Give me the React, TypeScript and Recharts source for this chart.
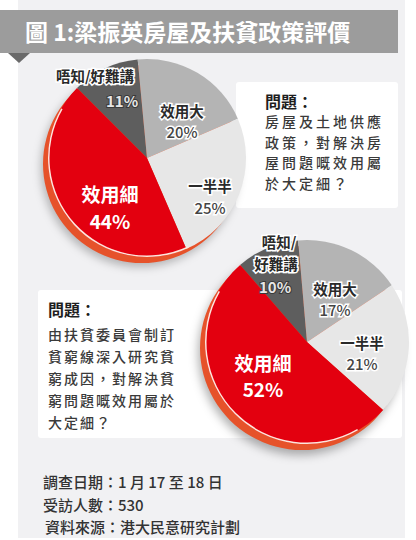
import React from "react";
import { PieChart, Pie, Cell } from "recharts";

// 回應類別（由深灰順時針）
const CATEGORIES = ["唔知/好難講", "效用大", "一半半", "效用細"];
const HOUSING = [11, 20, 25, 44];
const POVERTY = [10, 17, 21, 52];

const TITLE = "圖 1:梁振英房屋及扶貧政策評價";
const Q_HOUSING = ["房屋及土地供應", "政策，對解決房", "屋問題嘅效用屬", "於大定細？"];
const Q_POVERTY = ["由扶貧委員會制訂", "貧窮線深入研究貧", "窮成因，對解決貧", "窮問題嘅效用屬於", "大定細？"];
const FOOTER = ["調查日期：1 月 17 至 18 日", "受訪人數：530", "資料來源：港大民意研究計劃"];

const COLORS = ["#5e5e5e", "#b4b4b4", "#e7e7e7", "#e3000f"];
const FONT = "'Noto Sans CJK TC', 'Noto Sans', sans-serif";

const housing = CATEGORIES.map((name, i) => ({ name, value: HOUSING[i] }));
const poverty = CATEGORIES.map((name, i) => ({ name, value: POVERTY[i] }));

// label offsets from the pie centre: [nameDx, nameDy, pctDx, pctDy]
const OFF1 = [
  [-52, -83, -25, -58],
  [35, -48, 35, -27],
  [63, 27, 63, 49],
  [-37, 35, -37, 62],
];
const OFF2 = [
  [-31, -101, -32, -56],
  [28, -54, 28, -33],
  [55, 0, 55, 21],
  [-44, 20, -44, 46],
];

function makeLabel(off: number[][], splitFirst: boolean) {
  return (p: any) => {
    const i = p.index;
    const [nx, ny, px, py] = off[i];
    const cx = p.cx, cy = p.cy;
    const red = i === 3;
    const nameStyle = red
      ? { fill: "#fff", fontSize: 19, fontWeight: 700 }
      : { fill: "#2a2a2a", fontSize: 14.5, fontWeight: 700, stroke: "#fff", strokeWidth: 3, paintOrder: "stroke" as const };
    const pctStyle = red
      ? { fill: "#fff", fontSize: 19, fontWeight: 700 }
      : i === 0
      ? { fill: "#e6e6e6", fontSize: 15, fontWeight: 700, stroke: "#3a3a3a", strokeWidth: 2, paintOrder: "stroke" as const }
      : { fill: "#444", fontSize: 15, fontWeight: 500, stroke: "#fff", strokeWidth: 3, paintOrder: "stroke" as const };
    const names = splitFirst && i === 0 ? p.name.replace("/", "/\n").split("\n") : [p.name];
    return (
      <g style={{ fontFamily: FONT }}>
        {names.map((n: string, k: number) => (
          <text key={k} x={cx + nx + (k === 0 && names.length > 1 ? 3 : 0)} y={cy + ny + k * 22} textAnchor="middle" dominantBaseline="central" style={nameStyle}>
            {n}
          </text>
        ))}
        <text x={cx + px} y={cy + py} textAnchor="middle" dominantBaseline="central" style={pctStyle}>
          {p.value}%
        </text>
      </g>
    );
  };
}

const abs = (l: number, t: number, w: number, h: number, bg: string): React.CSSProperties => ({
  position: "absolute", left: l, top: t, width: w, height: h, background: bg,
});

export default function App() {
  const lineStyle = (top: number, left: number, lh: number, ls: number): React.CSSProperties => ({
    position: "absolute", left, top, lineHeight: `${lh}px`, fontSize: 14, fontWeight: 500, letterSpacing: ls, color: "#3a3a3a", whiteSpace: "pre",
  });
  const qHead = (top: number, left: number): React.CSSProperties => ({
    position: "absolute", left, top, fontSize: 16, fontWeight: 700, lineHeight: "18px", color: "#1e1e1e",
  });
  return (
    <div style={{ position: "absolute", left: 0, top: 0, width: 416, height: 540, background: "#fff", fontFamily: FONT, overflow: "hidden" }}>
      <div style={abs(18, 0, 387, 538, "#f1f1f3")} />
      <div style={{ ...abs(0, 10, 398, 43, "#9c9c9c"), color: "#fff", fontSize: 23, fontWeight: 700, lineHeight: "43px", paddingLeft: 25, boxSizing: "border-box", whiteSpace: "nowrap" }}>
        {TITLE}
      </div>
      <div style={{ position: "absolute", left: 8, top: 53, width: 0, height: 0, borderLeft: "11px solid transparent", borderRight: "11px solid transparent", borderTop: "10px solid #6a6a6a" }} />
      <div style={{ ...abs(236, 82, 162, 126, "#fff"), borderRadius: 3 }} />
      <div style={{ ...abs(38, 290, 364, 148, "#fff"), borderRadius: 3 }} />

      <div style={qHead(92, 265)}>問題：</div>
      <div style={lineStyle(111, 265, 20.5, 3)}>{Q_HOUSING.join("\n")}</div>
      <div style={qHead(300, 48)}>問題：</div>
      <div style={lineStyle(323, 48, 22, 2)}>{Q_POVERTY.join("\n")}</div>

      {FOOTER.map((t, i) => (
        <div key={i} style={{ position: "absolute", left: i === 2 ? 45 : 43, top: [471, 494, 516][i], fontSize: 15, fontWeight: 500, lineHeight: "22px", color: "#333", whiteSpace: "nowrap" }}>
          {t}
        </div>
      ))}

      <div style={{ position: "absolute", left: 0, top: 0 }}>
        <PieChart width={416} height={540}>
          {/* cylinder side of each pie */}
          <Pie data={[{ value: 1 }]} dataKey="value" cx={137} cy={159} outerRadius={99} stroke="none" isAnimationActive={false}>
            <Cell fill="#e6522a" style={{ filter: "drop-shadow(-2px 4px 4px rgba(0,0,0,0.25))" }} />
          </Pie>
          <Pie data={[{ value: 1 }]} dataKey="value" cx={297} cy={343} outerRadius={102} stroke="none" isAnimationActive={false}>
            <Cell fill="#e6522a" style={{ filter: "drop-shadow(-2px 5px 5px rgba(0,0,0,0.3))" }} />
          </Pie>
          <Pie
            data={housing}
            dataKey="value"
            nameKey="name"
            cx={142}
            cy={153}
            outerRadius={99}
            startAngle={135}
            endAngle={-225}
            stroke="none"
            labelLine={false}
            label={makeLabel(OFF1, false)}
            isAnimationActive={false}
          >
            {housing.map((d, i) => (
              <Cell key={d.name} fill={COLORS[i]} />
            ))}
          </Pie>
          <Pie
            data={poverty}
            dataKey="value"
            nameKey="name"
            cx={302}
            cy={337}
            outerRadius={102}
            startAngle={131}
            endAngle={-229}
            stroke="none"
            labelLine={false}
            label={makeLabel(OFF2, true)}
            isAnimationActive={false}
          >
            {poverty.map((d, i) => (
              <Cell key={d.name} fill={COLORS[i]} />
            ))}
          </Pie>
          {/* thin highlight along the front edge */}
          <Pie data={[{ value: 1 }]} dataKey="value" cx={142} cy={153} innerRadius={97.5} outerRadius={99} startAngle={150} endAngle={295} stroke="none" isAnimationActive={false}>
            <Cell fill="#fde6dc" />
          </Pie>
          <Pie data={[{ value: 1 }]} dataKey="value" cx={302} cy={337} innerRadius={100.5} outerRadius={102} startAngle={150} endAngle={300} stroke="none" isAnimationActive={false}>
            <Cell fill="#fde6dc" />
          </Pie>
        </PieChart>
      </div>
    </div>
  );
}
